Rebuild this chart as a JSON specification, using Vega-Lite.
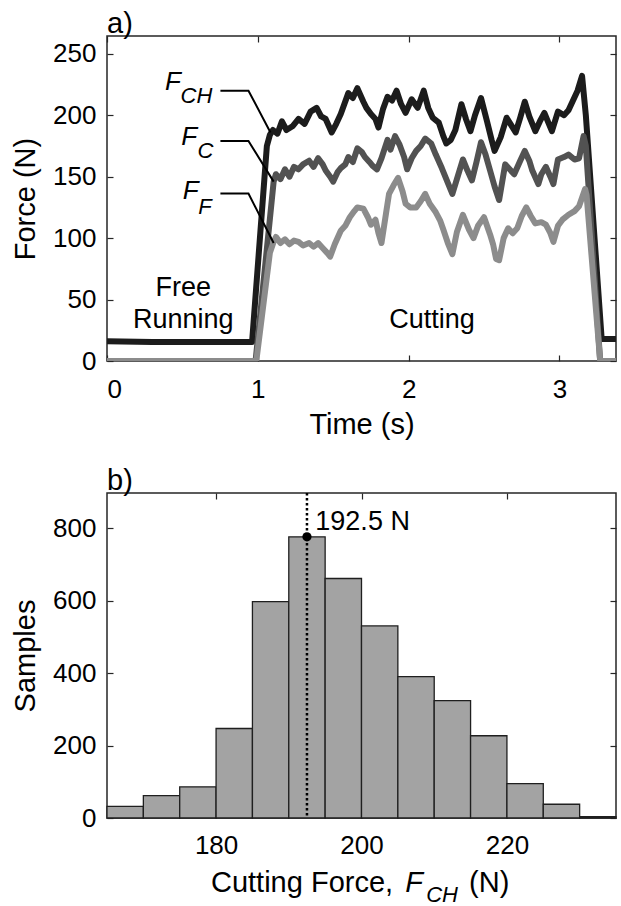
{
  "$schema": "https://vega.github.io/schema/vega-lite/v6.json",
  "padding": {"left": 10, "top": 9, "right": 2, "bottom": 0},
  "autosize": {"type": "pad"},
  "spacing": 26,
  "config": {
    "font": "Liberation Sans",
    "view": {"stroke": "#262626", "strokeWidth": 1.5},
    "axis": {"domain": false, "grid": false, "tickSize": -6, "tickColor": "#262626", "tickWidth": 1.2, "labelFontSize": 26, "labelColor": "#000", "titleFontSize": 29, "titleFontWeight": "normal", "titleColor": "#000", "labelFont": "Liberation Sans", "titleFont": "Liberation Sans"},
    "title": {"fontSize": 29, "fontWeight": "normal", "anchor": "start", "frame": "group", "color": "#000", "offset": -4, "font": "Liberation Sans"}
  },
  "vconcat": [
    {
      "width": 509,
      "height": 325,
      "title": {"text": "a)"},
      "layer": [
        {
          "data": {"values": [
            {"s":"FCH","t":0,"F":16},{"s":"FCH","t":0.3,"F":15.5},{"s":"FCH","t":0.6,"F":15.5},{"s":"FCH","t":0.962,"F":15.5},
            {"s":"FCH","t":1.06,"F":175},{"s":"FCH","t":1.08,"F":184},{"s":"FCH","t":1.10,"F":188},{"s":"FCH","t":1.13,"F":185},
            {"s":"FCH","t":1.16,"F":195},{"s":"FCH","t":1.19,"F":188},{"s":"FCH","t":1.23,"F":191},{"s":"FCH","t":1.27,"F":197},
            {"s":"FCH","t":1.31,"F":193},{"s":"FCH","t":1.35,"F":203},{"s":"FCH","t":1.39,"F":206},{"s":"FCH","t":1.42,"F":199},
            {"s":"FCH","t":1.45,"F":197},{"s":"FCH","t":1.49,"F":186},{"s":"FCH","t":1.52,"F":193},{"s":"FCH","t":1.55,"F":201},
            {"s":"FCH","t":1.60,"F":218},{"s":"FCH","t":1.63,"F":214},{"s":"FCH","t":1.66,"F":222},{"s":"FCH","t":1.70,"F":211},
            {"s":"FCH","t":1.72,"F":206},{"s":"FCH","t":1.75,"F":201},{"s":"FCH","t":1.78,"F":197},{"s":"FCH","t":1.80,"F":190},
            {"s":"FCH","t":1.83,"F":205},{"s":"FCH","t":1.86,"F":215},{"s":"FCH","t":1.89,"F":212},{"s":"FCH","t":1.92,"F":220},
            {"s":"FCH","t":1.95,"F":209},{"s":"FCH","t":1.98,"F":202},{"s":"FCH","t":2.02,"F":213},{"s":"FCH","t":2.06,"F":206},
            {"s":"FCH","t":2.10,"F":220},{"s":"FCH","t":2.13,"F":206},{"s":"FCH","t":2.16,"F":198},{"s":"FCH","t":2.20,"F":194},
            {"s":"FCH","t":2.23,"F":183},{"s":"FCH","t":2.25,"F":177},{"s":"FCH","t":2.28,"F":180},{"s":"FCH","t":2.31,"F":188},
            {"s":"FCH","t":2.35,"F":209},{"s":"FCH","t":2.38,"F":197},{"s":"FCH","t":2.41,"F":187},{"s":"FCH","t":2.44,"F":200},
            {"s":"FCH","t":2.48,"F":214},{"s":"FCH","t":2.52,"F":195},{"s":"FCH","t":2.55,"F":180},{"s":"FCH","t":2.57,"F":171},
            {"s":"FCH","t":2.61,"F":182},{"s":"FCH","t":2.65,"F":198},{"s":"FCH","t":2.68,"F":192},{"s":"FCH","t":2.71,"F":186},
            {"s":"FCH","t":2.74,"F":198},{"s":"FCH","t":2.77,"F":211},{"s":"FCH","t":2.80,"F":199},{"s":"FCH","t":2.84,"F":187},
            {"s":"FCH","t":2.87,"F":195},{"s":"FCH","t":2.90,"F":202},{"s":"FCH","t":2.93,"F":193},{"s":"FCH","t":2.95,"F":187},
            {"s":"FCH","t":2.99,"F":203},{"s":"FCH","t":3.03,"F":200},{"s":"FCH","t":3.06,"F":204},{"s":"FCH","t":3.09,"F":212},
            {"s":"FCH","t":3.12,"F":220},{"s":"FCH","t":3.15,"F":232},{"s":"FCH","t":3.175,"F":200},{"s":"FCH","t":3.28,"F":18},
            {"s":"FCH","t":3.375,"F":18},

            {"s":"FC","t":0,"F":0},{"s":"FC","t":0.985,"F":0},{"s":"FC","t":1.105,"F":146},{"s":"FC","t":1.12,"F":152},
            {"s":"FC","t":1.15,"F":148},{"s":"FC","t":1.18,"F":156},{"s":"FC","t":1.21,"F":150},{"s":"FC","t":1.24,"F":158},
            {"s":"FC","t":1.27,"F":156},{"s":"FC","t":1.30,"F":160},{"s":"FC","t":1.34,"F":163},{"s":"FC","t":1.37,"F":158},
            {"s":"FC","t":1.40,"F":165},{"s":"FC","t":1.43,"F":160},{"s":"FC","t":1.45,"F":155},{"s":"FC","t":1.48,"F":150},
            {"s":"FC","t":1.50,"F":146},{"s":"FC","t":1.53,"F":154},{"s":"FC","t":1.55,"F":157},{"s":"FC","t":1.58,"F":160},
            {"s":"FC","t":1.60,"F":166},{"s":"FC","t":1.63,"F":162},{"s":"FC","t":1.66,"F":173},{"s":"FC","t":1.69,"F":170},
            {"s":"FC","t":1.71,"F":166},{"s":"FC","t":1.74,"F":162},{"s":"FC","t":1.76,"F":159},{"s":"FC","t":1.79,"F":156},
            {"s":"FC","t":1.82,"F":165},{"s":"FC","t":1.86,"F":180},{"s":"FC","t":1.88,"F":172},{"s":"FC","t":1.91,"F":183},
            {"s":"FC","t":1.94,"F":176},{"s":"FC","t":1.97,"F":166},{"s":"FC","t":1.99,"F":156},{"s":"FC","t":2.02,"F":165},
            {"s":"FC","t":2.05,"F":171},{"s":"FC","t":2.08,"F":175},{"s":"FC","t":2.11,"F":181},{"s":"FC","t":2.15,"F":177},
            {"s":"FC","t":2.18,"F":168},{"s":"FC","t":2.22,"F":157},{"s":"FC","t":2.26,"F":145},{"s":"FC","t":2.29,"F":136},
            {"s":"FC","t":2.32,"F":148},{"s":"FC","t":2.36,"F":164},{"s":"FC","t":2.39,"F":155},{"s":"FC","t":2.42,"F":147},
            {"s":"FC","t":2.45,"F":162},{"s":"FC","t":2.48,"F":178},{"s":"FC","t":2.51,"F":168},{"s":"FC","t":2.54,"F":155},
            {"s":"FC","t":2.57,"F":142},{"s":"FC","t":2.60,"F":131},{"s":"FC","t":2.64,"F":160},{"s":"FC","t":2.67,"F":156},
            {"s":"FC","t":2.70,"F":152},{"s":"FC","t":2.74,"F":163},{"s":"FC","t":2.77,"F":171},{"s":"FC","t":2.80,"F":163},
            {"s":"FC","t":2.82,"F":155},{"s":"FC","t":2.86,"F":144},{"s":"FC","t":2.88,"F":152},{"s":"FC","t":2.91,"F":158},
            {"s":"FC","t":2.94,"F":150},{"s":"FC","t":2.96,"F":144},{"s":"FC","t":2.99,"F":164},{"s":"FC","t":3.03,"F":166},
            {"s":"FC","t":3.06,"F":168},{"s":"FC","t":3.10,"F":164},{"s":"FC","t":3.13,"F":165},{"s":"FC","t":3.16,"F":183},
            {"s":"FC","t":3.175,"F":175},{"s":"FC","t":3.27,"F":0},{"s":"FC","t":3.375,"F":0},

            {"s":"FF","t":0,"F":0},{"s":"FF","t":0.99,"F":0},{"s":"FF","t":1.08,"F":88},{"s":"FF","t":1.105,"F":97},
            {"s":"FF","t":1.12,"F":101},{"s":"FF","t":1.15,"F":96},{"s":"FF","t":1.18,"F":99},{"s":"FF","t":1.21,"F":95},
            {"s":"FF","t":1.24,"F":98},{"s":"FF","t":1.27,"F":97},{"s":"FF","t":1.30,"F":94},{"s":"FF","t":1.34,"F":96},
            {"s":"FF","t":1.37,"F":93},{"s":"FF","t":1.40,"F":96},{"s":"FF","t":1.43,"F":92},{"s":"FF","t":1.46,"F":88},
            {"s":"FF","t":1.48,"F":85},{"s":"FF","t":1.51,"F":95},{"s":"FF","t":1.55,"F":106},{"s":"FF","t":1.58,"F":110},
            {"s":"FF","t":1.61,"F":117},{"s":"FF","t":1.64,"F":122},{"s":"FF","t":1.66,"F":125},{"s":"FF","t":1.70,"F":124},
            {"s":"FF","t":1.73,"F":117},{"s":"FF","t":1.75,"F":111},{"s":"FF","t":1.78,"F":115},{"s":"FF","t":1.80,"F":104},
            {"s":"FF","t":1.82,"F":96},{"s":"FF","t":1.85,"F":120},{"s":"FF","t":1.87,"F":136},{"s":"FF","t":1.90,"F":143},
            {"s":"FF","t":1.93,"F":149},{"s":"FF","t":1.96,"F":138},{"s":"FF","t":1.98,"F":128},{"s":"FF","t":2.01,"F":125},
            {"s":"FF","t":2.05,"F":125},{"s":"FF","t":2.08,"F":130},{"s":"FF","t":2.11,"F":136},{"s":"FF","t":2.14,"F":128},
            {"s":"FF","t":2.18,"F":121},{"s":"FF","t":2.21,"F":114},{"s":"FF","t":2.23,"F":107},{"s":"FF","t":2.26,"F":96},
            {"s":"FF","t":2.29,"F":87},{"s":"FF","t":2.32,"F":105},{"s":"FF","t":2.36,"F":119},{"s":"FF","t":2.40,"F":107},
            {"s":"FF","t":2.43,"F":100},{"s":"FF","t":2.46,"F":110},{"s":"FF","t":2.50,"F":117},{"s":"FF","t":2.54,"F":103},
            {"s":"FF","t":2.56,"F":95},{"s":"FF","t":2.58,"F":83},{"s":"FF","t":2.60,"F":82},{"s":"FF","t":2.63,"F":100},
            {"s":"FF","t":2.66,"F":108},{"s":"FF","t":2.69,"F":104},{"s":"FF","t":2.72,"F":108},{"s":"FF","t":2.75,"F":118},
            {"s":"FF","t":2.78,"F":125},{"s":"FF","t":2.81,"F":118},{"s":"FF","t":2.84,"F":112},{"s":"FF","t":2.88,"F":113},
            {"s":"FF","t":2.91,"F":111},{"s":"FF","t":2.94,"F":104},{"s":"FF","t":2.96,"F":97},{"s":"FF","t":2.99,"F":110},
            {"s":"FF","t":3.02,"F":115},{"s":"FF","t":3.06,"F":119},{"s":"FF","t":3.10,"F":122},{"s":"FF","t":3.13,"F":126},
            {"s":"FF","t":3.17,"F":140},{"s":"FF","t":3.18,"F":135},{"s":"FF","t":3.27,"F":0},{"s":"FF","t":3.375,"F":0}
          ]},
          "mark": {"type": "line", "strokeWidth": 6, "strokeJoin": "round", "strokeCap": "round", "clip": true},
          "encoding": {
            "x": {"field": "t", "type": "quantitative", "scale": {"domain": [0, 3.375], "nice": false, "zero": false},
                  "axis": {"orient": "bottom", "values": [0, 1, 2, 3], "title": "Time (s)", "labelPadding": 21, "titlePadding": 8}},
            "y": {"field": "F", "type": "quantitative", "scale": {"domain": [0, 264.5], "nice": false},
                  "axis": {"orient": "left", "values": [0, 50, 100, 150, 200, 250], "title": "Force (N)", "labelPadding": 17, "titlePadding": 12}},
            "color": {"field": "s", "type": "nominal", "scale": {"domain": ["FCH", "FC", "FF"], "range": ["#1c1c1c", "#525252", "#8c8c8c"]}, "legend": null}
          }
        },
        {
          "data": {"values": [
            {"k":"CH","t":0.752,"F":220},{"k":"CH","t":0.938,"F":220},{"k":"CH","t":1.084,"F":186},
            {"k":"C","t":0.752,"F":179},{"k":"C","t":0.938,"F":179},{"k":"C","t":1.105,"F":146},
            {"k":"F","t":0.752,"F":136.3},{"k":"F","t":0.938,"F":136.3},{"k":"F","t":1.105,"F":96}
          ]},
          "mark": {"type": "line", "color": "#000", "strokeWidth": 2},
          "encoding": {
            "x": {"field": "t", "type": "quantitative", "axis": {"orient": "top", "values": [0, 1, 2, 3], "labels": false, "title": null}},
            "y": {"field": "F", "type": "quantitative", "axis": {"orient": "right", "values": [0, 50, 100, 150, 200, 250], "labels": false, "title": null}},
            "detail": {"field": "k"}
          }
        },
        {
          "data": {"values": [
            {"t":0.437,"F":227,"txt":"F"},{"t":0.545,"F":182.7,"txt":"F"},{"t":0.555,"F":138.3,"txt":"F"}
          ]},
          "mark": {"type": "text", "fontStyle": "italic", "fontSize": 26, "align": "center", "baseline": "middle", "color": "#000"},
          "encoding": {
            "x": {"field": "t", "type": "quantitative", "axis": null},
            "y": {"field": "F", "type": "quantitative", "axis": null},
            "text": {"field": "txt"}
          }
        },
        {
          "data": {"values": [
            {"t":0.593,"F":216,"txt":"CH"},{"t":0.653,"F":171.3,"txt":"C"},{"t":0.65,"F":125.7,"txt":"F"}
          ]},
          "mark": {"type": "text", "fontStyle": "italic", "fontSize": 22, "align": "center", "baseline": "middle", "color": "#000"},
          "encoding": {
            "x": {"field": "t", "type": "quantitative", "axis": null},
            "y": {"field": "F", "type": "quantitative", "axis": null},
            "text": {"field": "txt"}
          }
        },
        {
          "data": {"values": [
            {"t":0.505,"F":59.7,"txt":"Free"},{"t":0.505,"F":33,"txt":"Running"},{"t":2.155,"F":33,"txt":"Cutting"}
          ]},
          "mark": {"type": "text", "fontSize": 27, "align": "center", "baseline": "middle", "color": "#000"},
          "encoding": {
            "x": {"field": "t", "type": "quantitative", "axis": null},
            "y": {"field": "F", "type": "quantitative", "axis": null},
            "text": {"field": "txt"}
          }
        }
      ]
    },
    {
      "width": 509,
      "height": 325,
      "title": {"text": "b)"},
      "layer": [
        {
          "data": {"values": [
            {"lo":165,"hi":170,"n":32},{"lo":170,"hi":175,"n":62},{"lo":175,"hi":180,"n":86},{"lo":180,"hi":185,"n":247},
            {"lo":185,"hi":190,"n":597},{"lo":190,"hi":195,"n":776},{"lo":195,"hi":200,"n":661},{"lo":200,"hi":205,"n":530},
            {"lo":205,"hi":210,"n":390},{"lo":210,"hi":215,"n":324},{"lo":215,"hi":220,"n":227},{"lo":220,"hi":225,"n":95},
            {"lo":225,"hi":230,"n":38},{"lo":230,"hi":235,"n":4}
          ]},
          "mark": {"type": "rect", "fill": "#a3a3a3", "stroke": "#1f1f1f", "strokeWidth": 1.3},
          "encoding": {
            "x": {"field": "lo", "type": "quantitative", "scale": {"domain": [165, 235], "nice": false, "zero": false},
                  "axis": {"orient": "bottom", "values": [180, 200, 220], "title": null, "labelPadding": 20}},
            "x2": {"field": "hi"},
            "y": {"field": "n", "type": "quantitative", "scale": {"domain": [0, 897], "nice": false},
                  "axis": {"orient": "left", "values": [0, 200, 400, 600, 800], "title": "Samples", "labelPadding": 17, "titlePadding": 12}},
            "y2": {"datum": 0}
          }
        },
        {
          "data": {"values": [{"m": 192.5}]},
          "mark": {"type": "rule", "color": "#000", "strokeWidth": 2.5, "strokeDash": [2.5, 2.5]},
          "encoding": {
            "x": {"field": "m", "type": "quantitative", "axis": {"orient": "top", "values": [180, 200, 220], "labels": false, "title": null}}
          }
        },
        {
          "data": {"values": [{"m": 192.5, "n": 776}]},
          "mark": {"type": "point", "filled": true, "color": "#000", "size": 85, "opacity": 1},
          "encoding": {
            "x": {"field": "m", "type": "quantitative", "axis": null},
            "y": {"field": "n", "type": "quantitative", "axis": {"orient": "right", "values": [0, 200, 400, 600, 800], "labels": false, "title": null}}
          }
        },
        {
          "data": {"values": [{"m": 193.65, "n": 817, "txt": "192.5 N"}]},
          "mark": {"type": "text", "fontSize": 27, "align": "left", "baseline": "middle", "color": "#000"},
          "encoding": {
            "x": {"field": "m", "type": "quantitative", "axis": null},
            "y": {"field": "n", "type": "quantitative", "axis": null},
            "text": {"field": "txt"}
          }
        },
        {
          "data": {"values": [
            {"m": 179.3, "n": -204, "txt": "Cutting Force,"},
            {"m": 214.8, "n": -204, "txt": "(N)"}
          ]},
          "mark": {"type": "text", "fontSize": 29, "align": "left", "baseline": "alphabetic", "color": "#000"},
          "encoding": {
            "x": {"field": "m", "type": "quantitative", "axis": null},
            "y": {"field": "n", "type": "quantitative", "axis": null},
            "text": {"field": "txt"}
          }
        },
        {
          "data": {"values": [{"m": 206.0, "n": -204, "txt": "F"}]},
          "mark": {"type": "text", "fontSize": 29, "fontStyle": "italic", "align": "left", "baseline": "alphabetic", "color": "#000"},
          "encoding": {
            "x": {"field": "m", "type": "quantitative", "axis": null},
            "y": {"field": "n", "type": "quantitative", "axis": null},
            "text": {"field": "txt"}
          }
        },
        {
          "data": {"values": [{"m": 208.9, "n": -233, "txt": "CH"}]},
          "mark": {"type": "text", "fontSize": 22, "fontStyle": "italic", "align": "left", "baseline": "alphabetic", "color": "#000"},
          "encoding": {
            "x": {"field": "m", "type": "quantitative", "axis": null},
            "y": {"field": "n", "type": "quantitative", "axis": null},
            "text": {"field": "txt"}
          }
        }
      ]
    }
  ]
}
